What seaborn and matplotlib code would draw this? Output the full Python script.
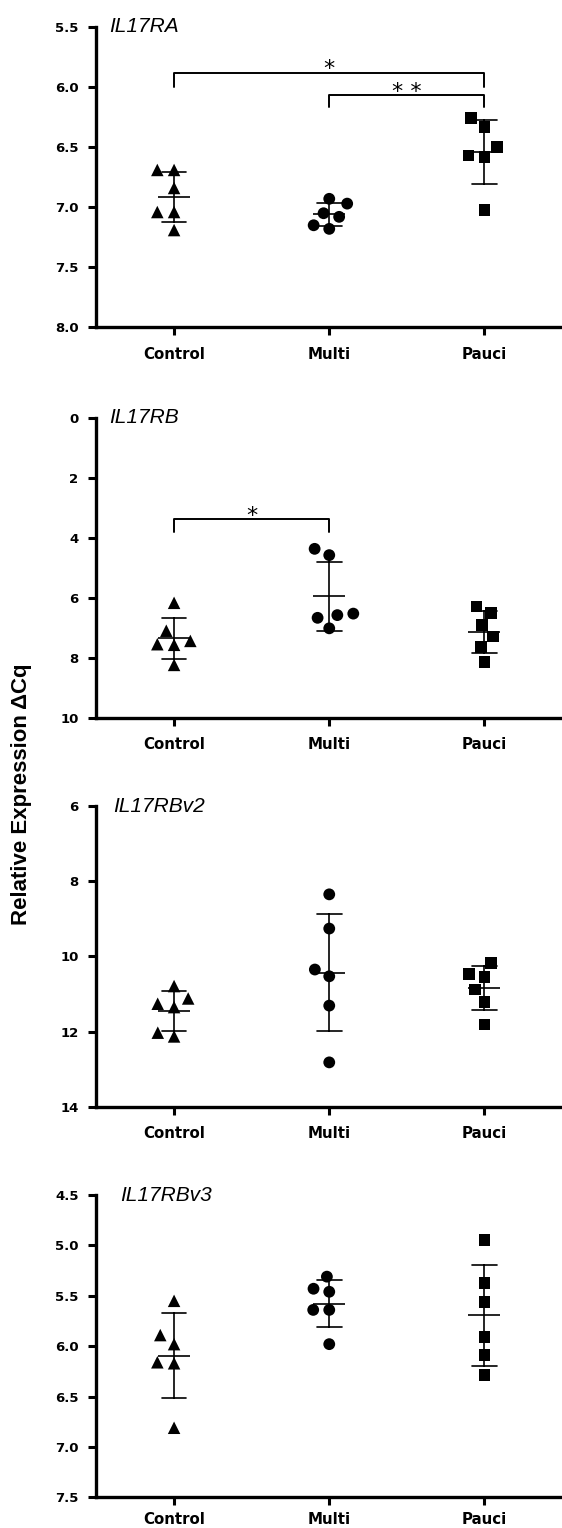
import matplotlib
matplotlib.use("Agg")
import matplotlib.pyplot as plt
import seaborn as sns
import pandas as pd

# group names and gene panels
groups = ["Control", "Multi", "Pauci"]
genes = ["IL17RA", "IL17RB", "IL17RBv2", "IL17RBv3"]

# delta Cq values (6 per group)
ra_control = [6.69, 6.69, 6.84, 7.04, 7.04, 7.19]
ra_multi = [6.93, 6.97, 7.05, 7.08, 7.15, 7.18]
ra_pauci = [6.26, 6.33, 6.50, 6.57, 6.58, 7.02]

rb_control = [6.17, 7.10, 7.44, 7.55, 7.57, 8.24]
rb_multi = [4.37, 4.58, 6.53, 6.58, 6.67, 7.02]
rb_pauci = [6.29, 6.50, 6.92, 7.29, 7.64, 8.14]

rbv2_control = [10.79, 11.12, 11.26, 11.35, 12.03, 12.13]
rbv2_multi = [8.35, 9.26, 10.35, 10.53, 11.31, 12.82]
rbv2_pauci = [10.18, 10.46, 10.55, 10.88, 11.21, 11.81]

rbv3_control = [5.55, 5.89, 5.98, 6.16, 6.17, 6.81]
rbv3_multi = [5.31, 5.43, 5.46, 5.64, 5.64, 5.98]
rbv3_pauci = [4.95, 5.37, 5.56, 5.91, 6.09, 6.29]

# y axis ticks per panel
ra_ticks = [5.5, 6.0, 6.5, 7.0, 7.5, 8.0]
rb_ticks = [0, 2, 4, 6, 8, 10]
rbv2_ticks = [6, 8, 10, 12, 14]
rbv3_ticks = [4.5, 5.0, 5.5, 6.0, 6.5, 7.0, 7.5]

# significance brackets: gene, group a, group b, label
sig_pairs = [
    ("IL17RA", "Control", "Pauci", "*"),
    ("IL17RA", "Multi", "Pauci", "* *"),
    ("IL17RB", "Control", "Multi", "*"),
]

rows = []
for gene, vals in zip(genes, [
        (ra_control, ra_multi, ra_pauci),
        (rb_control, rb_multi, rb_pauci),
        (rbv2_control, rbv2_multi, rbv2_pauci),
        (rbv3_control, rbv3_multi, rbv3_pauci)]):
    for grp, v in zip(groups, vals):
        for x in v:
            rows.append({"gene": gene, "group": grp, "dcq": x})
df = pd.DataFrame(rows)

sns.set_style("ticks")
plt.rcParams["font.family"] = ["DejaVu Sans"]
plt.rcParams.update({
    "text.color": "black",
    "axes.edgecolor": "black",
    "axes.labelcolor": "black",
    "xtick.color": "black",
    "ytick.color": "black",
})

markers = {"Control": "^", "Multi": "o", "Pauci": "s"}
msize = {"Control": 9, "Multi": 8.5, "Pauci": 8.5}

tick_sets = [ra_ticks, rb_ticks, rbv2_ticks, rbv3_ticks]
tick_fmt = ["{:.1f}", "{:.0f}", "{:.0f}", "{:.1f}"]
bottoms = [0.7857, 0.5303, 0.2757, 0.0201]
heights = [0.1967, 0.1963, 0.1968, 0.1978]
title_x = [0.027, 0.027, 0.035, 0.05]
xlab_pad = [8, 8, 8, 4.5]

# bracket heights (top, leg end) in data units
bracket_y = {
    ("IL17RA", "Control", "Pauci"): (5.88, 6.0),
    ("IL17RA", "Multi", "Pauci"): (6.07, 6.17),
    ("IL17RB", "Control", "Multi"): (3.39, 3.81),
}

fig = plt.figure(figsize=(5.62, 15.28), dpi=100)

for i, gene in enumerate(genes):
    ax = fig.add_axes([0.1717, bottoms[i], 0.8283, heights[i]])
    sub = df[df["gene"] == gene]

    for grp in groups:
        sns.swarmplot(
            data=sub[sub["group"] == grp],
            x="group",
            y="dcq",
            order=groups,
            marker=markers[grp],
            color="black",
            size=msize[grp],
            linewidth=2.5,
            edgecolor="none",
            ax=ax
        )

    sns.pointplot(
        data=sub,
        x="group",
        y="dcq",
        order=groups,
        errorbar="sd",
        capsize=0.16,
        color="black",
        marker="_",
        markersize=23.5,
        markeredgewidth=1.2,
        linestyle="none",
        linewidth=1.2,
        err_kws={"linewidth": 1.2},
        ax=ax
    )

    ticks = tick_sets[i]
    ax.set_ylim(ticks[-1], ticks[0])
    ax.set_yticks(ticks)
    ax.set_yticklabels([tick_fmt[i].format(t) for t in ticks])
    ax.set_xlim(-0.5, 2.5)
    ax.set_xlabel("")
    ax.set_ylabel("")
    sns.despine(ax=ax)
    for s in ["left", "bottom"]:
        ax.spines[s].set_linewidth(2.4)
        ax.spines[s].set_color("black")
    ax.tick_params(axis="both", width=2.2, length=6, color="black",
                   labelcolor="black")
    ax.tick_params(axis="x", labelsize=10.8, pad=xlab_pad[i])
    ax.tick_params(axis="y", labelsize=9.5, pad=7)
    for lab in ax.get_xticklabels() + ax.get_yticklabels():
        lab.set_fontweight("bold")

    ax.text(
        title_x[i], 1.0, gene,
        transform=ax.transAxes,
        fontsize=15,
        style="italic",
        family="Liberation Sans",
        color="black",
        ha="left",
        va="center"
    )

    for g_name, a, b, label in sig_pairs:
        if g_name != gene:
            continue
        x1 = groups.index(a)
        x2 = groups.index(b)
        top, leg = bracket_y[(g_name, a, b)]
        ax.plot([x1, x1, x2, x2], [leg, top, top, leg],
                color="black", linewidth=1.4, clip_on=False)
        ax.annotate(
            label,
            xy=((x1 + x2) / 2, top),
            xytext=(0, -1.5),
            textcoords="offset points",
            ha="center",
            va="baseline",
            fontsize=16,
            color="black"
        )

fig.text(
    21.5 / 562, 1 - 794 / 1528,
    "Relative Expression ΔCq",
    rotation=90,
    ha="center",
    va="center",
    fontsize=16,
    fontweight="bold",
    family="Liberation Sans",
    color="black"
)

fig.savefig("out.png", dpi=100)
plt.close()
